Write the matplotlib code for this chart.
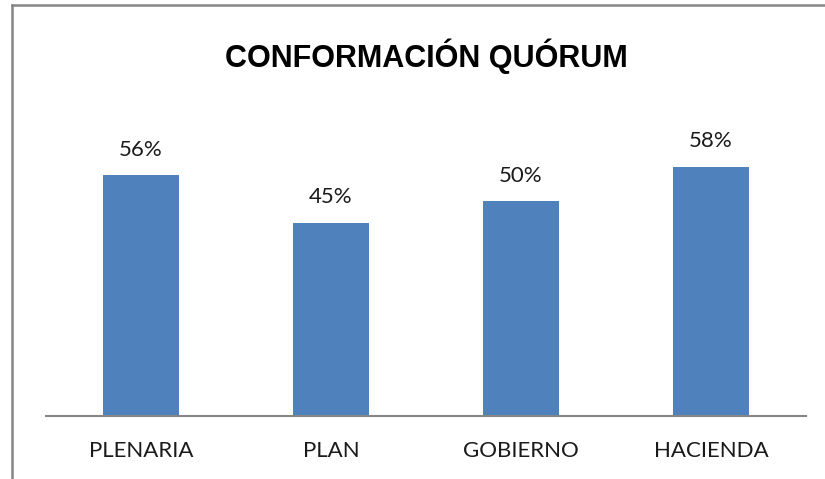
import matplotlib.pyplot as plt
from matplotlib.lines import Line2D

# data
categories = ["PLENARIA", "PLAN", "GOBIERNO", "HACIENDA"]
values = [0.56, 0.45, 0.50, 0.58]
labels = ["56%", "45%", "50%", "58%"]

W, H = 825, 479
bar_color = "#4F81BD"
line_gray = "#868686"

fig = plt.figure(figsize=(W / 100, H / 100), dpi=100)
fig.patch.set_facecolor("white")

# axes box in pixels: x 46..806, y 115..416
ax = fig.add_axes([46 / W, (H - 416) / H, 760 / W, 301 / H])
x = range(len(categories))
ax.bar(x, values, width=0.4, color=bar_color)
ax.set_xlim(-0.5, len(categories) - 0.5)
ax.set_ylim(0, 0.70)

for i, (v, lab) in enumerate(zip(values, labels)):
    ax.annotate(lab, (i, v), xytext=(0, 14), textcoords="offset points",
                ha="center", va="baseline", fontsize=16, family="Lato",
                color="#1a1a1a")

ax.set_xticks(list(x))
ax.set_xticklabels(categories, fontsize=16, family="Lato", color="#1a1a1a")
ax.tick_params(axis="x", length=0, pad=18)
ax.set_yticks([])
for s in ["top", "right", "left"]:
    ax.spines[s].set_visible(False)
ax.spines["bottom"].set_color(line_gray)
ax.spines["bottom"].set_linewidth(1.5)

fig.text(426 / W, 1 - 67 / H, "CONFORMACIÓN QUÓRUM", ha="center", va="baseline",
         fontsize=22, fontweight="bold",
         family=["Liberation Sans Narrow", "Liberation Sans", "DejaVu Sans"])

# chart frame (left and top edges visible)
fig.add_artist(Line2D([11.5 / W, 11.5 / W], [0, 1 - 5 / H], color=line_gray,
                      lw=1.8, transform=fig.transFigure))
fig.add_artist(Line2D([11.5 / W, 1], [1 - 5 / H, 1 - 5 / H], color=line_gray,
                      lw=1.8, transform=fig.transFigure))

fig.savefig("out.png", dpi=100)
